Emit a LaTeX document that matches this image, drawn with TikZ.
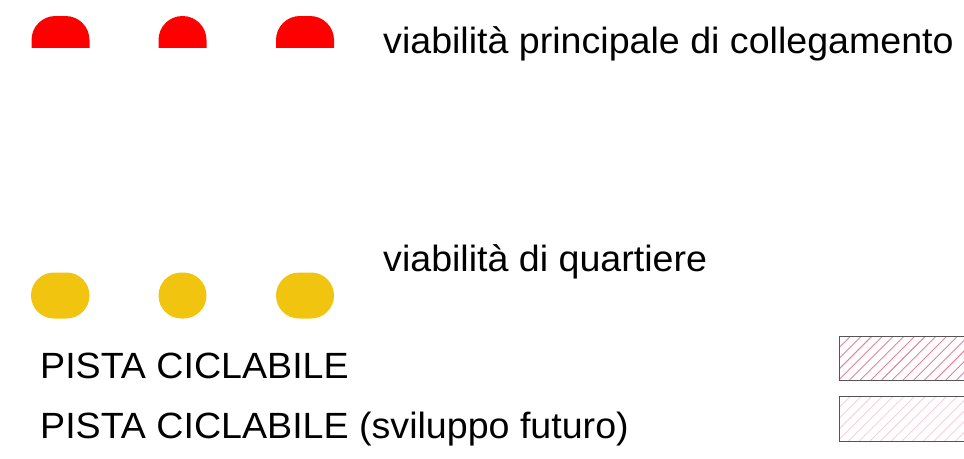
\documentclass[tikz,border=0pt]{standalone}
\usepackage{fontspec}
\setmainfont[FakeStretch=1.03]{Liberation Sans}
\definecolor{roadred}{RGB}{255,0,0}
\definecolor{roadyellow}{RGB}{241,196,15}
\definecolor{hatchpink}{RGB}{232,130,158}
\definecolor{hatchlight}{RGB}{250,208,220}
\definecolor{boxborder}{RGB}{85,85,85}
\tikzset{
  legendtext/.style={anchor=base west, inner sep=0pt, font=\fontsize{36.5}{40}\selectfont},
  redmark/.style={fill=roadred, rounded corners=24pt},
  yellowmark/.style={fill=roadyellow, rounded corners=23pt},
  boxframe/.style={draw=boxborder, line width=1pt},
}
\begin{document}
\begin{tikzpicture}[x=1pt,y=-1pt]
\useasboundingbox (0,0) rectangle (964,458);
% red marks (top-rounded)
\begin{scope}
  \clip (0,0) rectangle (964,47);
  \fill[redmark] (31.5,16) rectangle (89.5,90);
  \fill[redmark] (158.5,16) rectangle (206.5,90);
  \fill[redmark] (276,16) rectangle (334,90);
\end{scope}
% yellow marks
\fill[yellowmark] (31,272.5) rectangle (89.5,318.5);
\fill[yellowmark] (158.5,272.5) rectangle (206.5,318.5);
\fill[yellowmark] (276,272.5) rectangle (334,318.5);
% texts
\node[legendtext] (t1) at (383,53) {viabilità principale di collegamento};
\node[legendtext] (t2) at (383,271) {viabilità di quartiere};
\node[legendtext] (t3) at (40,378) {PISTA CICLABILE};
\node[legendtext] (t4) at (40,438) {PISTA CICLABILE (sviluppo futuro)};
% hatched boxes
\begin{scope}
  \clip (839,336) rectangle (964,380);
  \foreach \k in {0,...,16} {
    \draw[hatchpink, line width=0.9pt] (796+\k*10.7,380) -- (840+\k*10.7,336);
  }
\end{scope}
\draw[boxframe] (839,336) rectangle (970,380);
\begin{scope}
  \clip (839,396) rectangle (964,441);
  \foreach \k in {0,...,16} {
    \draw[hatchlight, line width=0.9pt] (795+\k*10.7,441) -- (840+\k*10.7,396);
  }
\end{scope}
\draw[boxframe] (839,396) rectangle (970,441);
\end{tikzpicture}
\end{document}
